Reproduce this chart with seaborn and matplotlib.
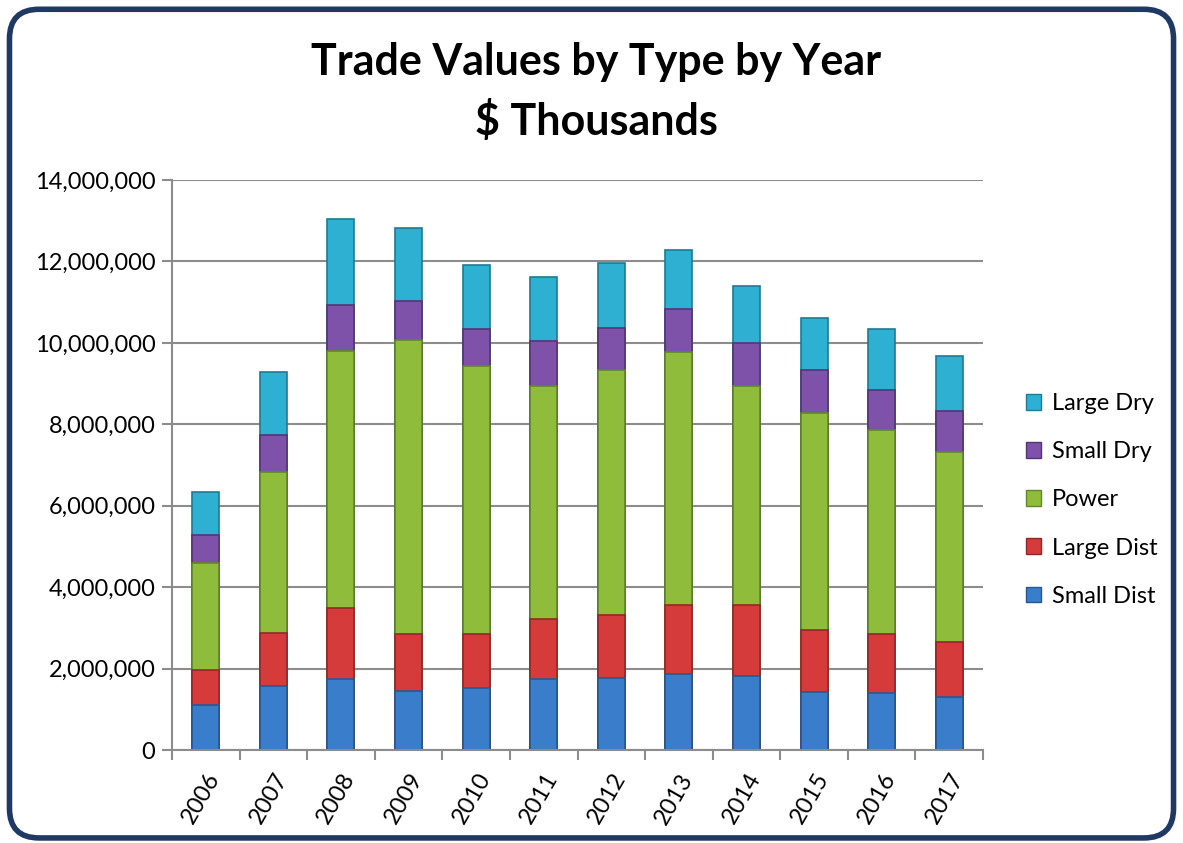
import matplotlib
matplotlib.use("Agg")
import matplotlib.pyplot as plt
import matplotlib.ticker as mticker
from matplotlib.patches import FancyBboxPatch, Patch
import numpy as np
import pandas as pd
import seaborn as sns

years = ["2006", "2007", "2008", "2009", "2010", "2011",
         "2012", "2013", "2014", "2015", "2016", "2017"]
# values in millions of $ thousands
small_dist = [1.11, 1.58, 1.74, 1.44, 1.53, 1.74, 1.78, 1.86, 1.81, 1.43, 1.39, 1.29]
large_dist = [0.86, 1.29, 1.75, 1.42, 1.32, 1.48, 1.54, 1.69, 1.74, 1.52, 1.46, 1.37]
power      = [2.63, 3.96, 6.32, 7.20, 6.59, 5.73, 6.01, 6.22, 5.39, 5.33, 5.01, 4.66]
small_dry  = [0.68, 0.91, 1.13, 0.97, 0.90, 1.09, 1.03, 1.07, 1.05, 1.05, 0.99, 1.01]
large_dry  = [1.06, 1.55, 2.09, 1.80, 1.56, 1.57, 1.60, 1.45, 1.41, 1.27, 1.49, 1.35]

series = ["Small Dist", "Large Dist", "Power", "Small Dry", "Large Dry"]
colors = ["#3A7DCA", "#D63B3B", "#90BC3C", "#7D52A8", "#2DB0D2"]
edges = ["#275891", "#962626", "#62862A", "#533574", "#1C7B95"]

df = pd.DataFrame({"Year": years, "Small Dist": small_dist, "Large Dist": large_dist,
                   "Power": power, "Small Dry": small_dry, "Large Dry": large_dry})
for s in series:
    df[s] = df[s] * 1e6
cum = df[series].cumsum(axis=1)

sns.set_theme(style="white")
plt.rcParams["font.family"] = ["Lato", "DejaVu Sans"]
plt.rcParams["text.color"] = "black"

fig = plt.figure(figsize=(11.83, 8.43), dpi=100)
ax = fig.add_axes([0.1454, 0.1103, 0.6856, 0.6762])

# draw from top of the stack down so lower segments sit on top
for i in range(len(series) - 1, -1, -1):
    sns.barplot(x=df["Year"], y=cum[series[i]], color=colors[i], width=0.4,
                edgecolor=edges[i], linewidth=1.2, ax=ax, saturation=1)

ax.set_ylim(0, 14000000)
ax.set_xlim(-0.5, 11.5)
ax.yaxis.set_major_locator(mticker.MultipleLocator(2000000))
ax.yaxis.set_major_formatter(mticker.FuncFormatter(lambda v, p: f"{int(v):,}"))
ax.grid(axis="y", color="#8C8C8C", linewidth=1.5)
ax.set_axisbelow(True)
ax.set_xlabel("")
ax.set_ylabel("")

for sp in ["top", "right"]:
    ax.spines[sp].set_visible(False)
for sp in ["left", "bottom"]:
    ax.spines[sp].set_color("#8C8C8C")
    ax.spines[sp].set_linewidth(1.5)

ax.tick_params(axis="y", which="major", left=True, length=7, width=1.5, color="#8C8C8C",
               labelsize=17, labelcolor="black", pad=5)
ax.tick_params(axis="x", which="major", bottom=False, labelsize=17, labelcolor="black", pad=8)
ax.set_xticks(np.arange(-0.5, 12, 1), minor=True)
ax.tick_params(axis="x", which="minor", bottom=True, length=7, width=1.5, color="#8C8C8C")
plt.setp(ax.get_xticklabels(), rotation=60, ha="right", rotation_mode="anchor")

handles = [Patch(facecolor=colors[i], edgecolor=edges[i], label=series[i])
           for i in range(len(series) - 1, -1, -1)]
fig.legend(handles=handles, loc="center left", bbox_to_anchor=(0.849, 0.407),
           frameon=False, fontsize=17, labelspacing=1.15, handlelength=0.65,
           handleheight=0.65, handletextpad=0.45)

fig.text(0.504, 0.927, "Trade Values by Type by Year", ha="center", va="center",
         fontsize=31, fontweight="bold", color="black")
fig.text(0.504, 0.857, "$ Thousands", ha="center", va="center",
         fontsize=31, fontweight="bold", color="black")

border = FancyBboxPatch((0.008, 0.006), 0.984, 0.983, boxstyle="round,pad=0,rounding_size=0.025",
                        transform=fig.transFigure, facecolor="none", edgecolor="#1F3864",
                        linewidth=4, mutation_aspect=1.4)
fig.patches.append(border)

fig.savefig("out.png", dpi=100)
